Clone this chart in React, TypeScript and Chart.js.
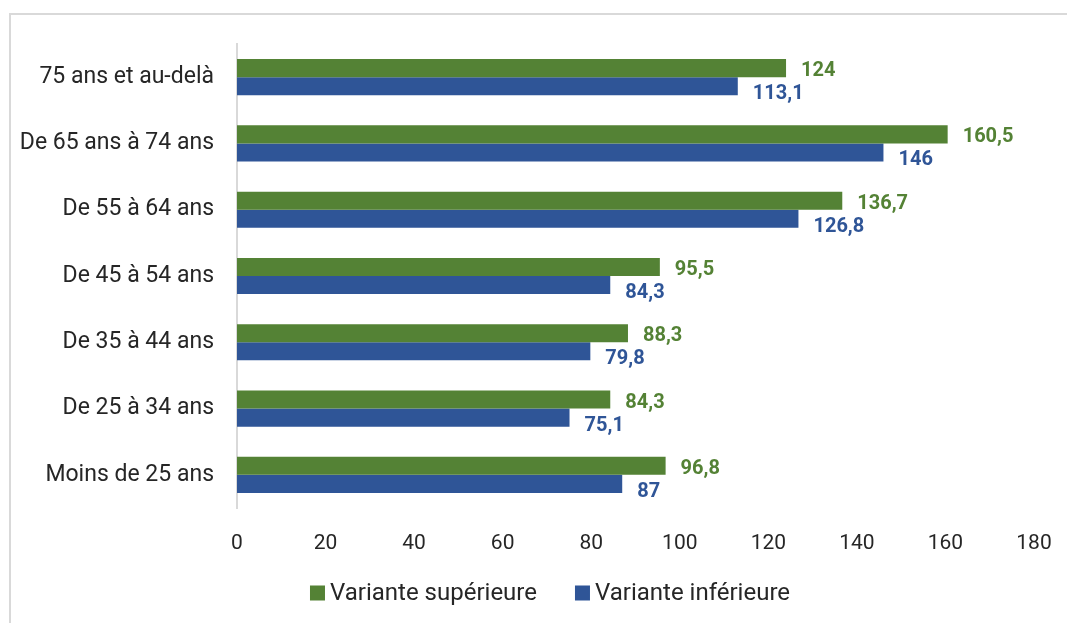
import React, { useEffect, useRef } from "react";
import { Chart, registerables } from "chart.js";

Chart.register(...registerables);

const categories = [
  "75 ans et au-delà",
  "De 65 ans à 74 ans",
  "De 55 à 64 ans",
  "De 45 à 54 ans",
  "De 35 à 44 ans",
  "De 25 à 34 ans",
  "Moins de 25 ans",
];
const varianteSuperieure = [124, 160.5, 136.7, 95.5, 88.3, 84.3, 96.8];
const varianteInferieure = [113.1, 146, 126.8, 84.3, 79.8, 75.1, 87];
const seriesNames = ["Variante supérieure", "Variante inférieure"];
const xTicks = { min: 0, max: 180, step: 20 };

const GREEN = "#548235";
const BLUE = "#2F5597";
const TEXT = "#262626";
const FONT = "Roboto, 'Noto Sans', sans-serif";

const labelPlugin = {
  id: "barValueLabels",
  afterDatasetsDraw(chart: any) {
    const ctx = chart.ctx;
    ctx.save();
    ctx.font = `bold 20px ${FONT}`;
    ctx.textAlign = "left";
    ctx.textBaseline = "middle";
    chart.data.datasets.forEach((ds: any, di: number) => {
      const meta = chart.getDatasetMeta(di);
      const dy = di === 0 ? 3 : 8;
      ctx.fillStyle = ds.backgroundColor;
      meta.data.forEach((bar: any, i: number) => {
        const v = ds.data[i];
        const txt = String(v).replace(".", ",");
        ctx.fillText(txt, bar.x + 15, bar.y + dy);
      });
    });
    ctx.restore();
  },
};

// Legend drawn from the datasets (labels + colours) below the x axis
const customLegend = {
  id: "customLegend",
  afterDraw(chart: any) {
    const ctx = chart.ctx;
    const box = 15;
    const gapText = 5;
    const gapItem = 38;
    const centerX = 550;
    const centerY = 593;
    ctx.save();
    ctx.font = `24px ${FONT}`;
    ctx.textBaseline = "middle";
    ctx.textAlign = "left";
    const items = chart.data.datasets.map((ds: any) => ({
      text: ds.label,
      color: ds.backgroundColor,
      w: box + gapText + ctx.measureText(ds.label).width,
    }));
    const total = items.reduce((s: number, it: any) => s + it.w, 0) + gapItem * (items.length - 1);
    let x = centerX - total / 2;
    items.forEach((it: any) => {
      ctx.fillStyle = it.color;
      ctx.fillRect(x, centerY - box / 2, box, box);
      ctx.fillStyle = TEXT;
      ctx.fillText(it.text, x + box + gapText, centerY + 1);
      x += it.w + gapItem;
    });
    ctx.restore();
  },
};

export default function App() {
  const ref = useRef<HTMLCanvasElement | null>(null);

  useEffect(() => {
    if (!ref.current) return;
    const chart = new Chart(ref.current, {
      type: "bar",
      data: {
        labels: categories,
        datasets: [
          {
            label: seriesNames[0],
            data: varianteSuperieure,
            backgroundColor: GREEN,
            borderWidth: 0,
          },
          {
            label: seriesNames[1],
            data: varianteInferieure,
            backgroundColor: BLUE,
            borderWidth: 0,
          },
        ],
      },
      options: {
        indexAxis: "y",
        responsive: false,
        animation: false,
        maintainAspectRatio: false,
        datasets: {
          bar: { categoryPercentage: 0.545, barPercentage: 1 },
        },
        layout: { padding: { left: 20, right: 33, top: 44, bottom: 65 } },
        scales: {
          x: {
            min: xTicks.min,
            max: xTicks.max,
            grid: { display: false, drawTicks: false },
            border: { display: false },
            ticks: {
              stepSize: xTicks.step,
              color: TEXT,
              font: { family: FONT, size: 21 },
              padding: 23,
              maxRotation: 0,
            },
            afterFit(scale: any) {
              scale.height = 50;
              scale.paddingLeft = 0;
              scale.paddingRight = 0;
            },
          },
          y: {
            grid: { display: false, drawTicks: false },
            border: { display: true, color: "#d9d9d9", width: 2 },
            ticks: {
              color: TEXT,
              font: { family: FONT, size: 23 },
              padding: 23,
            },
            afterFit(scale: any) {
              scale.width = 217;
            },
          },
        },
        plugins: {
          legend: { display: false },
          tooltip: { enabled: false },
        },
      },
      plugins: [labelPlugin, customLegend],
    });
    return () => chart.destroy();
  }, []);

  return (
    <div style={{ position: "fixed", left: 0, top: 0, width: 1067, height: 623, background: "#fff", overflow: "hidden" }}>
      <div
        style={{
          position: "absolute",
          left: 9,
          top: 13,
          width: 1058,
          height: 610,
          boxSizing: "border-box",
          borderTop: "2px solid #d9d9d9",
          borderLeft: "2px solid #d9d9d9",
          pointerEvents: "none",
        }}
      />
      <canvas ref={ref} width={1067} height={623} style={{ position: "absolute", left: 0, top: 0, display: "block" }} />
    </div>
  );
}
